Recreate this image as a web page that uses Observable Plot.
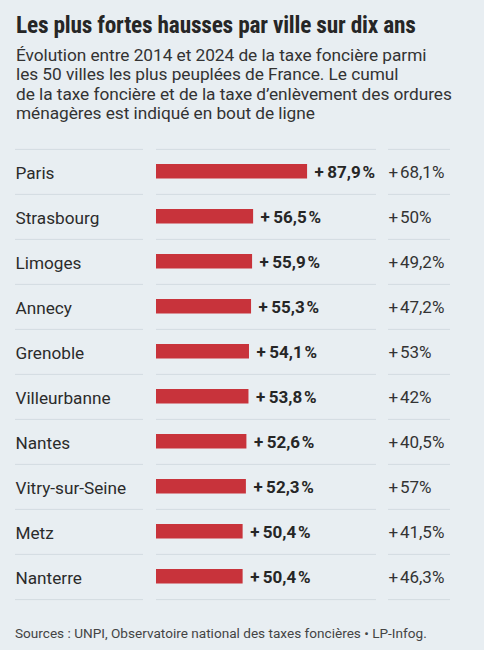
<!DOCTYPE html>
<html><head><meta charset="utf-8">
<script src="https://cdn.jsdelivr.net/npm/d3@7"></script>
<script src="https://cdn.jsdelivr.net/npm/@observablehq/plot@0.6"></script>
<style>
html,body{margin:0;padding:0;background:#e8eef2;}
body{width:484px;height:650px;overflow:hidden;font-family:Roboto,"Noto Sans",sans-serif;color:#2b2b2b;}
#title{font-family:"Liberation Sans Narrow","Roboto Condensed",Roboto,sans-serif;font-weight:bold;font-size:23.3px;line-height:26px;padding:12px 0 0 16px;letter-spacing:-0.2px;color:#262626;}
#sub{font-size:17.3px;line-height:19.3px;margin:8px 0 0 16px;color:#333;letter-spacing:-0.05px;}
#chart{margin-top:14px;}
#chart svg{display:block;}
#src{font-size:13.6px;line-height:16px;margin:18px 0 0 15px;color:#444;}
</style></head><body>
<div id="title">Les plus fortes hausses par ville sur dix ans</div>
<div id="sub">Évolution entre 2014 et 2024 de la taxe foncière parmi<br>les 50 villes les plus peuplées de France. Le cumul<br>de la taxe foncière et de la taxe d’enlèvement des ordures<br>ménagères est indiqué en bout de ligne</div>
<div id="chart"></div>
<div id="src">Sources : UNPI, Observatoire national des taxes foncières • LP-Infog.</div>
<script>
const cities = ["Paris", "Strasbourg", "Limoges", "Annecy", "Grenoble", "Villeurbanne", "Nantes", "Vitry-sur-Seine", "Metz", "Nanterre"];
const taxeFonciere = [87.9, 56.5, 55.9, 55.3, 54.1, 53.8, 52.6, 52.3, 50.4, 50.4];
const cumulTeom = [68.1, 50, 49.2, 47.2, 53, 42, 40.5, 57, 41.5, 46.3];

const data = cities.map((city, i) => ({city, tf: taxeFonciere[i], cumul: cumulTeom[i]}));
const num = v => v.toLocaleString("fr-FR");
const fmtBold = v => "+\u2009" + num(v) + "\u200a%";
const fmtRight = v => "+\u200a" + num(v) + "%";

const H = 470, MT = 11, MB = 7;
const band = (H - MT - MB) / cities.length;
const lineColor = "#d3dbe1";
const seps = (opts) => [
  Plot.ruleY(cities, {y: d => d, dy: -band / 2, stroke: lineColor, strokeWidth: 1, ...opts}),
  Plot.ruleY([cities[cities.length - 1]], {y: d => d, dy: band / 2, stroke: lineColor, strokeWidth: 1, ...opts})
];

const chart = Plot.plot({
  width: 484, height: H,
  marginTop: MT, marginBottom: MB, marginLeft: 0, marginRight: 0,
  style: {background: "transparent", fontFamily: "Roboto, 'Noto Sans', sans-serif", color: "#2b2b2b"},
  x: {domain: [0, 128], range: [156, 376], axis: null},
  y: {domain: cities, padding: 0, axis: null},
  marks: [
    ...seps({insetLeft: 15, insetRight: 341}),
    ...seps({insetLeft: 156, insetRight: 108}),
    ...seps({insetLeft: 388, insetRight: 34}),
    Plot.barX(data, {x: "tf", y: "city", fill: "#c8333b", insetTop: 15, insetBottom: 15.5}),
    Plot.text(data, {y: "city", text: "city", frameAnchor: "left", dx: 15, dy: 1, textAnchor: "start", fontSize: 17.2, fill: "#2b2b2b"}),
    Plot.text(data, {x: "tf", y: "city", text: d => fmtBold(d.tf), dx: 7, dy: 1, textAnchor: "start", fontSize: 17, fontWeight: "bold", letterSpacing: -0.3, fill: "#262626"}),
    Plot.text(data, {y: "city", text: d => fmtRight(d.cumul), frameAnchor: "left", dx: 388, dy: 1, textAnchor: "start", fontSize: 17, fill: "#333"})
  ]
});
document.getElementById("chart").appendChild(chart);
</script>
</body></html>
